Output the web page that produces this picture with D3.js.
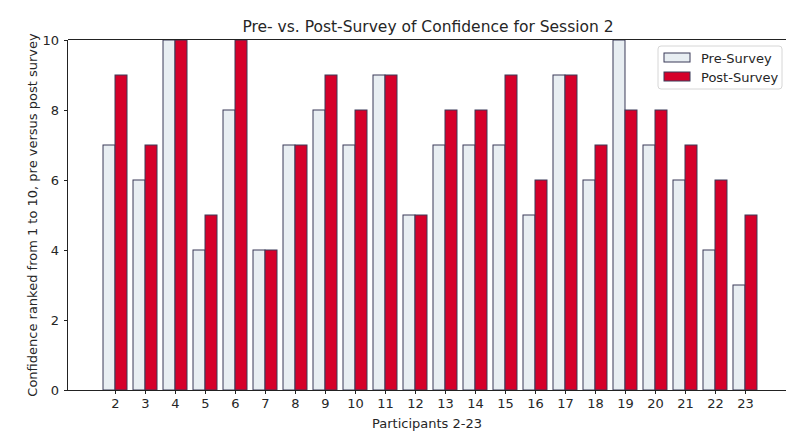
<!DOCTYPE html>
<html><head><meta charset="utf-8">
<script src="https://cdn.jsdelivr.net/npm/d3@7"></script>
<style>body{margin:0;background:#fff}svg{display:block;font-family:"DejaVu Sans",sans-serif}</style>
</head><body><svg id="c" width="786" height="431"></svg>
<script>
const participants = [2,3,4,5,6,7,8,9,10,11,12,13,14,15,16,17,18,19,20,21,22,23];
const preSurvey  = [7,6,10,4,8,4,7,8,7,9,5,7,7,7,5,9,6,10,7,6,4,3];
const postSurvey = [9,7,10,5,10,4,7,9,8,9,5,8,8,9,6,9,7,8,8,7,6,5];
const yTicks = [0,2,4,6,8,10];
const seriesNames = ["Pre-Survey","Post-Survey"];

const svg = d3.select("#c");
const L = 68, R = 786, T = 40, B = 390;
const x = d3.scaleLinear().domain([0.433, 24.367]).range([L, R]);
const y = d3.scaleLinear().domain([0, 10]).range([B, T]);
const bw = 0.4;
const edge = "#3b3b58";
const preFill = "#e8eef2", postFill = "#d5002a";
const txt = "#262626";

const g = svg.append("g");
g.selectAll("rect.pre").data(participants).join("rect")
  .attr("x", (d)=>x(d - bw)).attr("width", x(bw)-x(0))
  .attr("y", (d,i)=>y(preSurvey[i])).attr("height", (d,i)=>y(0)-y(preSurvey[i]))
  .attr("fill", preFill).attr("stroke", edge).attr("stroke-width", 1);
g.selectAll("rect.post").data(participants).join("rect")
  .attr("x", (d)=>x(d)).attr("width", x(bw)-x(0))
  .attr("y", (d,i)=>y(postSurvey[i])).attr("height", (d,i)=>y(0)-y(postSurvey[i]))
  .attr("fill", postFill).attr("stroke", edge).attr("stroke-width", 1);

// axes
const xa = svg.append("g").attr("transform", `translate(0,${B})`)
  .call(d3.axisBottom(x).tickValues(participants).tickSize(4).tickPadding(5).tickFormat(d3.format("d")));
const ya = svg.append("g").attr("transform", `translate(${L},0)`)
  .call(d3.axisLeft(y).tickValues(yTicks).tickSize(4).tickPadding(5));
[xa, ya].forEach(a => {
  a.selectAll("text").attr("font-size", 13).attr("fill", txt).attr("font-family", "DejaVu Sans");
  a.selectAll("line").attr("stroke", "#222");
  a.select(".domain").remove();
});
svg.append("line").attr("x1", L).attr("x2", R).attr("y1", B+0.5).attr("y2", B+0.5).attr("stroke", "#222");
svg.append("line").attr("x1", L).attr("x2", R).attr("y1", T-0.5).attr("y2", T-0.5).attr("stroke", "#222");
svg.append("line").attr("x1", L-0.5).attr("x2", L-0.5).attr("y1", T).attr("y2", B).attr("stroke", "#222");

svg.append("text").attr("x", 428).attr("y", 32).attr("text-anchor", "middle")
  .attr("font-size", 15.5).attr("fill", txt).text("Pre- vs. Post-Survey of Confidence for Session 2");
svg.append("text").attr("x", 427).attr("y", 428).attr("text-anchor", "middle")
  .attr("font-size", 13).attr("fill", txt).text("Participants 2-23");
svg.append("text").attr("transform", "translate(37,215) rotate(-90)").attr("text-anchor", "middle")
  .attr("font-size", 13).attr("fill", txt).text("Confidence ranked from 1 to 10, pre versus post survey");

// legend
const lg = svg.append("g").attr("transform", "translate(658,46)");
lg.append("rect").attr("width", 124).attr("height", 43).attr("rx", 3)
  .attr("fill", "#fff").attr("fill-opacity", 0.85).attr("stroke", "#d6d6d6");
seriesNames.forEach((n, i) => {
  lg.append("rect").attr("x", 6).attr("y", 7 + i*19).attr("width", 26).attr("height", 9)
    .attr("fill", i ? postFill : preFill).attr("stroke", edge);
  lg.append("text").attr("x", 43).attr("y", 16.5 + i*19).attr("font-size", 13).attr("fill", txt).text(n);
});
</script></body></html>
